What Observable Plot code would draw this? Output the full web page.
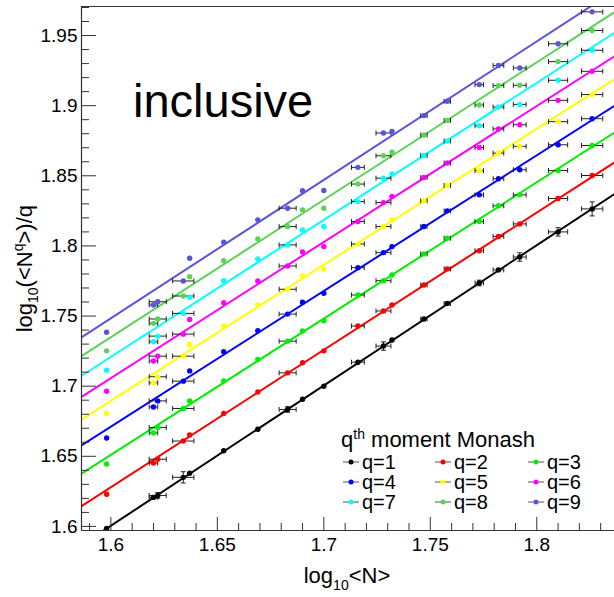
<!DOCTYPE html>
<html><head><meta charset="utf-8">
<script src="https://cdn.jsdelivr.net/npm/d3@7"></script>
<script src="https://cdn.jsdelivr.net/npm/@observablehq/plot@0.6"></script>
<style>body{margin:0;background:#fff} #chart svg{display:block}</style>
</head><body><div id="chart"></div>
<script>
// ---- data ----
const xVals = [1.598, 1.620, 1.622, 1.634, 1.637, 1.653, 1.669, 1.683, 1.690, 1.700, 1.716, 1.728, 1.732, 1.747, 1.758, 1.773, 1.782, 1.792, 1.810, 1.826];
const xErr  = [0, 0.002, 0.004, 0.005, 0, 0, 0, 0.004, 0, 0, 0.003, 0.0035, 0, 0.0015, 0.0015, 0.002, 0.0025, 0.003, 0.0045, 0.005];
const q1 = [1.5986, 1.6207, 1.6221, 1.635, 1.638, 1.654, 1.6693, 1.6834, 1.6907, 1.700, 1.7171, 1.7286, 1.7329, 1.7479, 1.759, 1.7736, 1.7829, 1.7921, 1.810, 1.8264];
const q1YErr = [0, 0, 0.002, 0.004, 0, 0, 0, 0.002, 0, 0, 0, 0.003, 0, 0, 0, 0.002, 0, 0.003, 0.003, 0.005];
const q2 = [1.6229, 1.6452, 1.6479, 1.6609, 1.6652, 1.6805, 1.6959, 1.7095, 1.7167, 1.7252, 1.7429, 1.7536, 1.7579, 1.7721, 1.7836, 1.7966, 1.8067, 1.8157, 1.8338, 1.8502];
const q3 = [1.6445, 1.6667, 1.6705, 1.6841, 1.6895, 1.7038, 1.7191, 1.7321, 1.7393, 1.7467, 1.765, 1.7752, 1.7793, 1.7943, 1.8055, 1.8174, 1.8286, 1.8364, 1.8538, 1.8716];
const q4 = [1.6631, 1.6852, 1.6895, 1.7036, 1.7109, 1.7245, 1.7395, 1.7514, 1.7598, 1.7662, 1.7845, 1.7952, 1.7995, 1.8138, 1.825, 1.8364, 1.8479, 1.8543, 1.8721, 1.8907];
const q5 = [1.6805, 1.7024, 1.7067, 1.7214, 1.7298, 1.7429, 1.7579, 1.7691, 1.7786, 1.7834, 1.8014, 1.8138, 1.8186, 1.8322, 1.8431, 1.8536, 1.8662, 1.871, 1.8886, 1.9079];
const q6 = [1.6964, 1.7179, 1.7214, 1.7371, 1.7476, 1.7595, 1.775, 1.7857, 1.7957, 1.7995, 1.8174, 1.8309, 1.8352, 1.8488, 1.8591, 1.8702, 1.8834, 1.8864, 1.9038, 1.9245];
const q7 = [1.7114, 1.7317, 1.7357, 1.7519, 1.7634, 1.7752, 1.7907, 1.8007, 1.8114, 1.8138, 1.8316, 1.8483, 1.8514, 1.8645, 1.8748, 1.8857, 1.899, 1.9009, 1.9181, 1.9395];
const q8 = [1.7252, 1.7448, 1.7479, 1.7643, 1.7781, 1.7895, 1.805, 1.8138, 1.8257, 1.8269, 1.8441, 1.8643, 1.8669, 1.8791, 1.8895, 1.9005, 1.9143, 1.9145, 1.9314, 1.9536];
const q9 = [1.7384, 1.7579, 1.7602, 1.775, 1.7912, 1.8026, 1.8186, 1.8269, 1.8393, 1.8395, 1.856, 1.8805, 1.8817, 1.8929, 1.9031, 1.915, 1.9286, 1.9269, 1.9441, 1.9669];
// fitted lines: value at log10<N> = 1.6 and at 1.8
const fitAt16 = [1.6005, 1.6280, 1.6510, 1.6712, 1.6896, 1.7058, 1.7209, 1.7349, 1.7484];
const fitAt18 = [1.8005, 1.8238, 1.8454, 1.8646, 1.8836, 1.8998, 1.9163, 1.9309, 1.9458];
const seriesNames = ["q=1","q=2","q=3","q=4","q=5","q=6","q=7","q=8","q=9"];
const seriesColors = ["#000000","#ff0000","#00ee00","#0000ff","#ffff00","#ff00ff","#00ffff","#59d454","#5954d9"];
const xTickMajor = [1.6, 1.65, 1.7, 1.75, 1.8];
const yTickMajor = [1.6, 1.65, 1.7, 1.75, 1.8, 1.85, 1.9, 1.95];
const tag = "inclusive";

// ---- layout ----
const W = 614, H = 597, mL = 81, mR = 0, mT = 6, mB = 67;
const xDomain = [1.5862, 1.8365], yDomain = [1.5971, 1.9707];
const plotW = W - mL - mR, plotH = H - mT - mB;

const series = [q1, q2, q3, q4, q5, q6, q7, q8, q9];
const points = [], hbars = [], vbars = [];
series.forEach((ys, qi) => ys.forEach((y, i) => {
  points.push({q: qi, x: xVals[i], y});
  if (xErr[i] > 0) hbars.push({x1: xVals[i] - xErr[i], x2: xVals[i] + xErr[i], y});
}));
q1YErr.forEach((e, i) => { if (e > 0) vbars.push({x: xVals[i], y1: q1[i] - e, y2: q1[i] + e}); });
const fitLines = fitAt16.flatMap((a, qi) => {
  const b = (fitAt18[qi] - a) / 0.2;
  return xDomain.map(x => ({q: qi, x, y: a + b * (x - 1.6)}));
});
const minorX = d3.range(159, 184).map(v => v / 100).filter(v => !xTickMajor.some(m => Math.abs(m - v) < 1e-6));
const minorY = d3.range(160, 198).map(v => v / 100).filter(v => !yTickMajor.some(m => Math.abs(m - v) < 1e-6));
const vCap = {draw(ctx) { ctx.moveTo(0, -2.5); ctx.lineTo(0, 2.5); }};
const hCap = {draw(ctx) { ctx.moveTo(-2.5, 0); ctx.lineTo(2.5, 0); }};
const fmt = d => String(+d.toFixed(2));

const plot = Plot.plot({
  width: W, height: H,
  marginLeft: mL, marginRight: mR, marginTop: mT, marginBottom: mB,
  x: {domain: xDomain},
  y: {domain: yDomain},
  color: {type: "ordinal", domain: d3.range(9), range: seriesColors},
  style: {fontFamily: "'Liberation Sans', Arial, Helvetica, sans-serif", fontSize: "19px", color: "#000", background: "#fff"},
  marks: [
    Plot.line(fitLines, {x: "x", y: "y", z: "q", stroke: "q", strokeWidth: 2, clip: true}),
    Plot.link(hbars, {x1: "x1", x2: "x2", y1: "y", y2: "y", stroke: "#222", strokeWidth: 1}),
    Plot.dot(hbars, {x: "x1", y: "y", symbol: vCap, r: 2, stroke: "#222", fill: "none", strokeWidth: 1}),
    Plot.dot(hbars, {x: "x2", y: "y", symbol: vCap, r: 2, stroke: "#222", fill: "none", strokeWidth: 1}),
    Plot.link(vbars, {x1: "x", x2: "x", y1: "y1", y2: "y2", stroke: "#222", strokeWidth: 1}),
    Plot.dot(vbars, {x: "x", y: "y1", symbol: hCap, r: 2, stroke: "#222", fill: "none", strokeWidth: 1}),
    Plot.dot(vbars, {x: "x", y: "y2", symbol: hCap, r: 2, stroke: "#222", fill: "none", strokeWidth: 1}),
    Plot.dot(points, {x: "x", y: "y", fill: "q", r: 2.7}),
    // frame
    Plot.ruleY([yDomain[1]], {stroke: "#333", strokeWidth: 1.2}),
    Plot.ruleY([yDomain[0]], {stroke: "#333", strokeWidth: 1.2}),
    Plot.ruleX([xDomain[0]], {stroke: "#333", strokeWidth: 1.2}),
    // inward ticks
    Plot.tickY(yTickMajor, {y: d => d, insetRight: plotW - 15, stroke: "#333"}),
    Plot.tickY(minorY, {y: d => d, insetRight: plotW - 8, stroke: "#333"}),
    Plot.tickX(xTickMajor, {x: d => d, insetTop: plotH - 13, stroke: "#333"}),
    Plot.tickX(minorX, {x: d => d, insetTop: plotH - 7, stroke: "#333"}),
    Plot.axisY(yTickMajor, {tickSize: 0, tickPadding: 4, tickFormat: fmt, label: null}),
    Plot.axisX(xTickMajor, {tickSize: 0, tickPadding: 7, tickFormat: fmt, label: null})
  ]
});
document.getElementById("chart").appendChild(plot);

// ---- titles, tag and legend ----
const svg = d3.select(plot);
const font = "'Liberation Sans', Arial, Helvetica, sans-serif";
const addText = (x, y, size, anchor) => svg.append("text").attr("x", x).attr("y", y)
  .attr("text-anchor", anchor).style("font-family", font).style("font-size", size + "px").attr("fill", "#000");
// y title
const yt = svg.append("text").attr("transform", "translate(32,205) rotate(-90)")
  .attr("text-anchor", "end").style("font-family", font).style("font-size", "22px").attr("fill", "#000");
yt.append("tspan").text("log");
yt.append("tspan").attr("dy", 6).style("font-size", "14px").text("10");
yt.append("tspan").attr("dy", -6).text("(<N");
yt.append("tspan").attr("dy", -9).style("font-size", "14px").text("q");
yt.append("tspan").attr("dy", 9).text(">)/q");
// x title
const xt = addText(347, 583, 22, "middle");
xt.append("tspan").text("log");
xt.append("tspan").attr("dy", 7).style("font-size", "14px").text("10");
xt.append("tspan").attr("dy", -7).text("<N>");
// tag
addText(133, 117, 47, "start").text(tag);
// legend
const lt = addText(341, 447, 22, "start");
lt.append("tspan").text("q");
lt.append("tspan").attr("dy", -8).style("font-size", "14px").text("th");
lt.append("tspan").attr("dy", 8).text(" moment Monash");
const colX = [351, 443, 536], rowY = [469, 489, 509];
seriesNames.forEach((name, i) => {
  const cx = colX[i % 3], by = rowY[Math.floor(i / 3)];
  const g = svg.append("g");
  g.append("line").attr("x1", cx - 8).attr("x2", cx + 8).attr("y1", by - 7).attr("y2", by - 7).attr("stroke", "#555").attr("stroke-width", 1);
  g.append("circle").attr("cx", cx).attr("cy", by - 7).attr("r", 2.5).attr("fill", seriesColors[i]);
  addText(cx + 11, by, 20, "start").text(name);
});
</script>
</body></html>
